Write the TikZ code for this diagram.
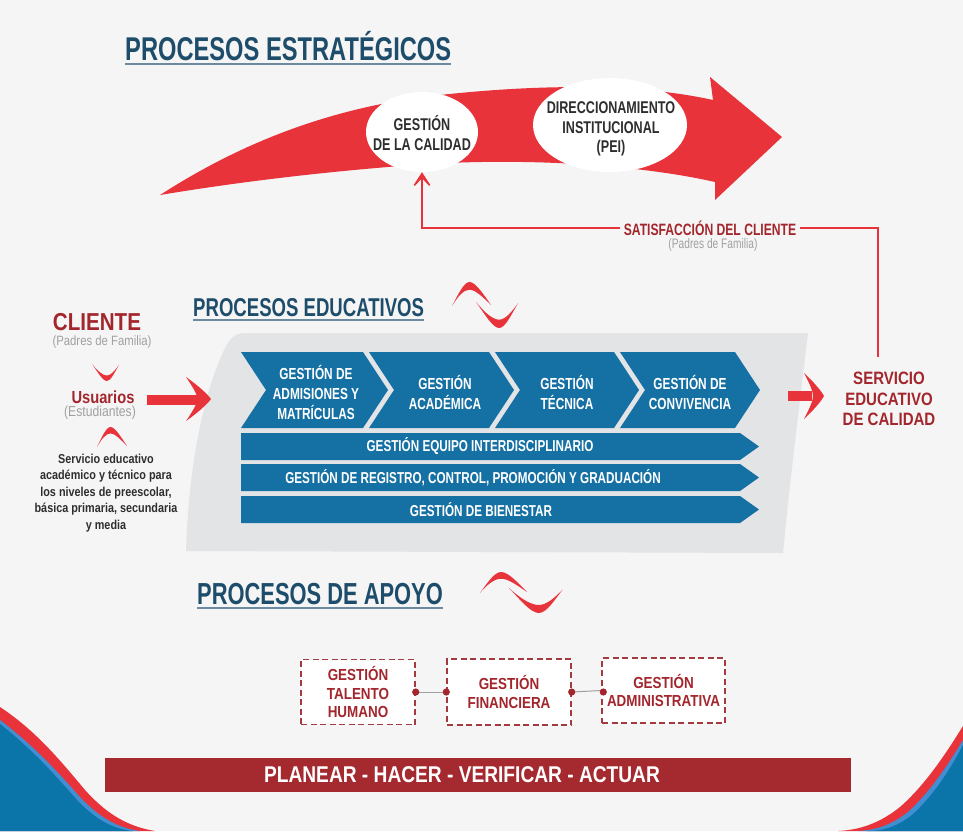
\documentclass[tikz,border=0pt]{standalone}
\usepackage{fontspec}
\setmainfont{Liberation Sans}[FakeStretch=0.84]
\newfontfamily\nar{Liberation Sans}[FakeStretch=0.74]
\newfontfamily\titlefont{Liberation Sans}[FakeStretch=0.72]
\usetikzlibrary{arrows.meta,calc,shapes.geometric}
\definecolor{bg}{HTML}{F5F5F5}
\definecolor{titleblue}{HTML}{1E4D6B}
\definecolor{ulinec}{HTML}{6B8A9E}
\definecolor{bigred}{HTML}{E8333B}
\definecolor{darkred}{HTML}{A3262D}
\definecolor{barred}{HTML}{A52A30}
\definecolor{edublue}{HTML}{1570A4}
\definecolor{grayback}{HTML}{E3E4E6}
\definecolor{darktext}{HTML}{2E2E2E}
\definecolor{softgray}{HTML}{A0A0A0}
\definecolor{wavedark}{HTML}{0B74A8}
\definecolor{wavelight}{HTML}{3F8FD2}
\definecolor{dashred}{HTML}{A33A40}
\newcommand\myfs[2]{\fontsize{#1pt}{#2pt}\selectfont}
\begin{document}
\begin{tikzpicture}[x=1pt,y=-1pt,
  ttl/.style={font=\titlefont\bfseries\myfs{#1}{#1}, text=titleblue, inner sep=0pt, anchor=base west},
  uline/.style={draw=ulinec, line width=2pt},
  chevtxt/.style={font=\nar\bfseries\myfs{16}{20}, text=white, align=center, inner sep=0pt},
  bartxt/.style={font=\nar\bfseries\myfs{15.8}{18}, text=white, inner sep=0pt},
  elltxt/.style={font=\nar\bfseries\myfs{17}{19.5}, text=darktext, align=center, inner sep=0pt},
  redtxt/.style={font=\bfseries\myfs{#1}{#1}, text=darkred, align=center, inner sep=0pt},
  graytxt/.style={font=\myfs{#1}{#1}, text=softgray, inner sep=0pt},
  dbox/.style={draw=dashred, dashed, dash pattern=on 6pt off 3.5pt, line width=1.4pt, fill=white,
     font=\bfseries\myfs{16}{18.5}, text=darkred, align=center, inner sep=0pt},
  redline/.style={draw=bigred, line width=2.2pt},
  dotc/.style={fill=darkred},
  pics/archup/.style={code={\fill[bigred] (0,1) .. controls (0.15,0.55) and (0.3,0) .. (0.45,0)
      .. controls (0.6,0) and (0.8,0.5) .. (1,0.95) .. controls (0.78,0.62) and (0.6,0.32) .. (0.45,0.32)
      .. controls (0.3,0.32) and (0.15,0.6) .. (0,1) -- cycle;}},
  pics/archdown/.style={code={\fill[bigred] (0,0) .. controls (0.2,0.45) and (0.4,1) .. (0.55,1)
      .. controls (0.7,1) and (0.85,0.45) .. (1,0.05) .. controls (0.85,0.38) and (0.7,0.68) .. (0.55,0.68)
      .. controls (0.4,0.68) and (0.2,0.4) .. (0,0) -- cycle;}},
  pics/blockhead/.style={code={\fill[bigred] (0,0) .. controls (0.45,0.18) and (0.85,0.38) .. (1,0.5)
      .. controls (0.85,0.62) and (0.45,0.82) .. (0,1) .. controls (0.3,0.75) and (0.45,0.6) .. (0.45,0.5)
      .. controls (0.45,0.4) and (0.3,0.25) .. (0,0) -- cycle;}}
]
\useasboundingbox (0,0) rectangle (963,831);
\fill[bg] (0,0) rectangle (963,831);

% bottom waves
\fill[bigred] (0,707) .. controls (35,730) and (60,760) .. (85,790) .. controls (105,812) and (125,826) .. (155,831) -- (0,831) -- cycle;
\fill[wavelight] (0,720) .. controls (33,745) and (58,772) .. (80,797) .. controls (100,818) and (118,828) .. (140,831) -- (0,831) -- cycle;
\fill[wavedark] (0,724) .. controls (32,749) and (56,776) .. (77,800) .. controls (96,820) and (113,829) .. (133,831) -- (0,831) -- cycle;
\fill[bigred] (963,726) .. controls (945,755) and (925,785) .. (900,807) .. controls (880,823) and (860,830) .. (838,831) -- (963,831) -- cycle;
\fill[wavelight] (963,740) .. controls (948,765) and (930,792) .. (908,812) .. controls (890,826) and (875,830) .. (858,831) -- (963,831) -- cycle;
\fill[wavedark] (963,745) .. controls (950,770) and (933,796) .. (912,815) .. controls (895,828) and (882,831) .. (866,831) -- (963,831) -- cycle;

% titles
\node[ttl=32.9] (t1) at (125,60) {PROCESOS ESTRATÉGICOS};
\draw[uline] ([yshift=-4pt]t1.base west) -- ([yshift=-4pt]t1.base east);
\node[ttl=25.8] (t2) at (193,316) {PROCESOS EDUCATIVOS};
\draw[uline] ([yshift=-4pt]t2.base west) -- ([yshift=-4pt]t2.base east);
\node[ttl=30.4] (t3) at (197,604) {PROCESOS DE APOYO};
\draw[uline] ([yshift=-4pt]t3.base west) -- ([yshift=-4pt]t3.base east);

% big strategic arrow
\fill[bigred] (160,195) .. controls (230,150) and (320,108) .. (440,95) .. controls (560,82) and (650,86) .. (713,100)
  -- (710,77) -- (782,137) -- (715,200) -- (715,182) .. controls (640,165) and (520,156) .. (400,166)
  .. controls (300,174) and (220,185) .. (160,195) -- cycle;
\node[ellipse, fill=white, minimum width=112pt, minimum height=80pt, inner sep=0pt] (cal) at (422,132) {};
\node[elltxt] (caltxt) at (422,133) {GESTIÓN\\DE LA CALIDAD};
\node[ellipse, fill=white, minimum width=154pt, minimum height=94pt, inner sep=0pt] (pei) at (610,125) {};
\node[elltxt] (peitxt) at (611,129) {DIRECCIONAMIENTO\\INSTITUCIONAL\\(PEI)};

% satisfaction loop
\node[redtxt=16.4, font=\nar\bfseries\myfs{16.4}{16.4}, inner xsep=4pt] (sat) at (710,228) {SATISFACCIÓN DEL CLIENTE};
\node[graytxt=13.8, font=\nar\myfs{13.8}{13.8}] (pad2) at (713,245) {(Padres de Familia)};
\node[redtxt=17.9, font=\bfseries\myfs{17.9}{20.5}] (serv) at (889,399) {SERVICIO\\EDUCATIVO\\DE CALIDAD};
\coordinate (servtop) at (878,357);
\draw[redline, -{Stealth[length=20pt,width=26pt,inset=14pt]}] (sat.west) -| (cal.south);
\draw[redline] (sat.east) -| (servtop);

% educational processes backing
\fill[grayback] (245,333) -- (808,333) .. controls (800,400) and (790,480) .. (783,553) -- (186,551)
  .. controls (188,480) and (200,400) .. (225,348) .. controls (230,338) and (236,333) .. (245,333) -- cycle;

\foreach \a/\b in {241/363, 369/489, 495/614, 620/735}{
  \fill[edublue] (\a,352) -- (\b,352) -- (\b+25,390) -- (\b,428) -- (\a,428) -- (\a+25,390) -- cycle;
}
\foreach \t in {433,464,496}{
  \fill[edublue] (241,\t) -- (740,\t) -- (759,\t+13.5) -- (740,\t+27) -- (241,\t+27) -- cycle;
}
\node[chevtxt] (c1) at (316,392) {GESTIÓN DE\\ADMISIONES Y\\MATRÍCULAS};
\node[chevtxt] (c2) at (445,392) {GESTIÓN\\ACADÉMICA};
\node[chevtxt] (c3) at (567,392) {GESTIÓN\\TÉCNICA};
\node[chevtxt] (c4) at (690,392) {GESTIÓN DE\\CONVIVENCIA};
\node[bartxt] (r2) at (480,446.5) {GESTIÓN EQUIPO INTERDISCIPLINARIO};
\node[bartxt] (r3) at (473,477.5) {GESTIÓN DE REGISTRO, CONTROL, PROMOCIÓN Y GRADUACIÓN};
\node[bartxt] (r4) at (481,509.5) {GESTIÓN DE BIENESTAR};

% wave marks
\pic[xscale=39,yscale=24] at (452,282) {archup};
\pic[xscale=42,yscale=26] at (476,302) {archdown};
\pic[xscale=47,yscale=21] at (480,572) {archup};
\pic[xscale=54,yscale=25] at (509,588) {archdown};

% left column
\node[redtxt=24.5] (cli) at (97,322) {CLIENTE};
\node[graytxt=13.5] (pad1) at (102,342) {(Padres de Familia)};
\pic[xscale=27,yscale=17] at (92,364) {archdown};
\node[redtxt=17.5] (usu) at (103,397) {Usuarios};
\node[graytxt=14.5] (est) at (100,413) {(Estudiantes)};
\pic[xscale=30,yscale=20] at (97,427) {archup};
\node[font=\bfseries\myfs{12.9}{16.6}, text=darktext, align=center, inner sep=0pt] (srv) at (106,493)
  {Servicio educativo\\académico y técnico para\\los niveles de preescolar,\\básica primaria, secundaria\\y media};

% block arrows
\fill[bigred] (147,395) rectangle (197,405);
\pic[xscale=25,yscale=44] at (186,377) {blockhead};
\fill[bigred] (788,391) rectangle (812,401);
\pic[xscale=20,yscale=46] at (804,373) {blockhead};

% support processes
\node[dbox, minimum width=114pt, minimum height=65pt] (b1) at (358,692) {GESTIÓN\\TALENTO\\HUMANO};
\node[dbox, minimum width=124pt, minimum height=66pt] (b2) at (509,692) {GESTIÓN\\FINANCIERA};
\node[dbox, minimum width=123pt, minimum height=65pt] (b3) at (663.5,690.5) {GESTIÓN\\ADMINISTRATIVA};
\draw[draw=softgray, line width=1pt] (b1.east) -- (b2.west);
\draw[draw=softgray, line width=1pt] (b2.east) -- (b3.west);
\fill[dotc] (b1.east) circle (3.6pt);
\fill[dotc] (b2.west) circle (3.6pt);
\fill[dotc] (b2.east) circle (3.6pt);
\fill[dotc] ($(b3.west)+(2,1.5)$) circle (3.6pt);

% PDCA bar
\fill[barred] (105,758) rectangle (851,792);
\node[font=\bfseries\myfs{22.8}{22.8}, text=white, inner sep=0pt] (pdca) at (462,775) {PLANEAR - HACER - VERIFICAR - ACTUAR};
\end{tikzpicture}
\end{document}
